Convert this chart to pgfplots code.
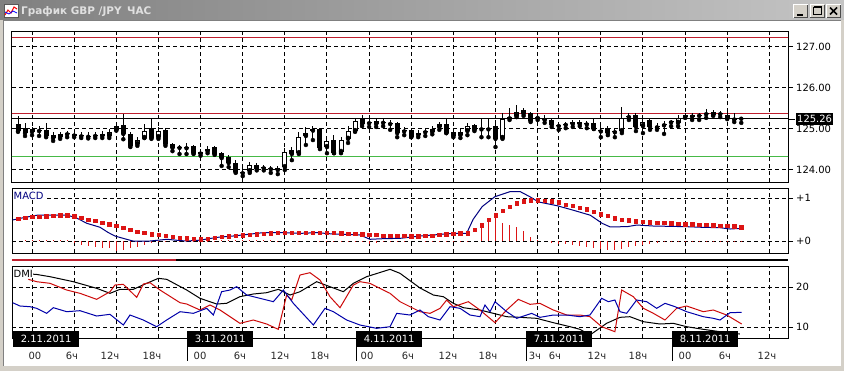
\documentclass[border=0pt]{standalone}
\usepackage{pgfplots}
\pgfplotsset{compat=1.18}
\usepackage{pgfplotstable}
\usepackage{fontspec}
\setmainfont{DejaVu Sans}
\definecolor{wingray}{RGB}{212,208,200}
\definecolor{tgl}{RGB}{128,128,128}
\definecolor{tgr}{RGB}{196,196,196}
\definecolor{ttext}{RGB}{224,224,224}
\definecolor{lvlred}{RGB}{190,30,45}
\definecolor{lvlgreen}{RGB}{70,185,70}
\definecolor{macdnavy}{RGB}{0,0,128}
\definecolor{sigred}{RGB}{220,20,20}
\definecolor{dmiblue}{RGB}{0,0,170}
\definecolor{dmired}{RGB}{205,10,10}
\newcommand\lbl{\fontsize{10}{12}\selectfont}
\pgfplotsset{
  panel/.style={scale only axis, width=776bp, xmin=-0.8545, xmax=109.656,
    axis line style={black, line width=1bp},
    grid=major, major grid style={black, line width=1bp, dash pattern=on 4bp off 3bp},
    xtick={2,8,14,20,26,32,38,44,50,56,62,68,74,77,83,89,95,101,107},
    xticklabels={}, xtick style={draw=none},
    ytick pos=right, yticklabel pos=right, tick align=outside, major tick length=5bp,
    ytick style={black, line width=1bp},
    yticklabel style={font=\lbl, anchor=west, text height=7.3bp, text depth=0pt, inner sep=0pt, xshift=3bp},
    anchor=north west},
  ebar/.style n args={2}{only marks, mark=none, forget plot, error bars/.cd, y dir=plus, y explicit, error mark=none, error bar style={#1, line width=#2}}
}
\begin{document}
\pgfplotstableread{
i O H L C
0 125.12 125.32 124.93 124.95
1 125.02 125.15 124.83 124.90
2 125.00 125.05 124.85 124.93
3 124.97 125.07 124.83 124.95
4 124.98 125.15 124.80 124.83
5 124.85 124.93 124.71 124.78
6 124.88 124.93 124.76 124.80
7 124.88 124.95 124.80 124.87
8 124.88 124.95 124.80 124.84
9 124.86 124.93 124.78 124.82
10 124.84 124.92 124.77 124.81
11 124.84 124.92 124.78 124.83
12 124.88 124.95 124.78 124.83
13 124.83 125.00 124.78 124.93
14 124.98 125.10 124.96 125.07
15 125.10 125.36 124.75 124.88
16 124.88 124.93 124.56 124.59
17 124.63 124.80 124.59 124.73
18 124.78 125.12 124.78 124.95
19 125.02 125.24 124.76 124.78
20 124.80 125.05 124.76 124.95
21 124.98 125.02 124.59 124.63
22 124.63 124.66 124.46 124.54
23 124.56 124.61 124.39 124.54
24 124.55 124.66 124.39 124.53
25 124.59 124.61 124.39 124.41
26 124.41 124.50 124.35 124.40
27 124.50 124.59 124.41 124.46
28 124.56 124.59 124.37 124.39
29 124.41 124.44 124.10 124.29
30 124.32 124.37 124.07 124.17
31 124.17 124.24 123.93 123.95
32 123.95 124.12 123.85 123.92
33 123.97 124.20 123.93 124.12
34 124.12 124.17 123.99 124.03
35 124.05 124.12 123.99 124.04
36 124.03 124.10 123.93 124.02
37 124.05 124.10 123.90 124.00
38 124.07 124.54 124.00 124.44
39 124.49 124.56 124.24 124.39
40 124.41 124.93 124.39 124.80
41 124.83 125.05 124.61 124.90
42 124.96 125.07 124.73 124.97
43 125.00 125.02 124.51 124.54
44 124.56 124.83 124.41 124.71
45 124.73 124.85 124.41 124.41
46 124.44 124.80 124.41 124.73
47 124.76 125.07 124.66 124.95
48 124.95 125.27 124.93 125.20
49 125.24 125.34 125.07 125.12
50 125.16 125.24 125.05 125.14
51 125.20 125.27 125.05 125.12
52 125.16 125.24 125.07 125.15
53 125.15 125.22 124.98 125.12
54 125.15 125.17 124.80 124.90
55 124.96 125.05 124.85 124.94
56 124.98 125.02 124.80 124.80
57 124.90 124.98 124.80 124.85
58 124.94 125.00 124.83 124.92
59 124.93 125.07 124.87 125.00
60 125.05 125.17 124.98 125.12
61 125.12 125.24 124.90 124.90
62 124.93 124.98 124.80 124.83
63 124.85 125.00 124.78 124.93
64 124.95 125.15 124.85 125.07
65 125.10 125.12 124.95 124.98
66 125.01 125.27 124.80 124.99
67 125.01 125.24 124.80 124.99
68 125.07 125.22 124.56 124.76
69 124.78 125.39 124.76 125.24
70 125.28 125.51 125.22 125.26
71 125.32 125.58 125.29 125.41
72 125.46 125.51 125.32 125.37
73 125.39 125.41 125.17 125.20
74 125.28 125.39 125.22 125.27
75 125.27 125.34 125.15 125.22
76 125.22 125.27 125.05 125.10
77 125.08 125.15 124.98 125.07
78 125.11 125.17 125.02 125.10
79 125.17 125.22 125.05 125.12
80 125.17 125.22 125.07 125.12
81 125.13 125.20 125.02 125.11
82 125.15 125.27 125.00 125.00
83 124.96 125.07 124.80 124.94
84 125.02 125.07 124.85 124.90
85 124.94 125.02 124.80 124.92
86 124.95 125.54 124.90 125.27
87 125.31 125.39 125.22 125.29
88 125.34 125.39 124.95 125.05
89 125.07 125.24 124.90 125.17
90 125.22 125.27 124.98 125.05
91 125.06 125.15 124.98 125.04
92 125.09 125.20 124.88 125.11
93 125.16 125.22 125.07 125.17
94 125.15 125.34 125.07 125.27
95 125.34 125.39 125.27 125.29
96 125.30 125.39 125.22 125.31
97 125.32 125.39 125.22 125.34
98 125.36 125.49 125.27 125.38
99 125.41 125.46 125.32 125.34
100 125.36 125.44 125.29 125.38
101 125.34 125.41 125.24 125.27
102 125.25 125.39 125.17 125.23
103 125.25 125.29 125.15 125.26
}\candles
\pgfplotstableread{
i v
-0.75 0.49
1.0 0.55
2.7 0.60
4.56 0.605
6.98 0.605
8.4 0.53
9.83 0.41
11.68 0.32
12.82 0.20
13.81 0.116
15.24 0.05
16.38 0.0
18.8 0.0
21.22 0.04
23.07 0.01
24.07 0.0
25.92 0.02
28.34 0.085
30.62 0.116
34.89 0.194
37.74 0.194
40.16 0.178
42.58 0.194
44.86 0.163
48.7 0.14
50.13 0.04
51.98 0.054
54.41 0.062
57.25 0.116
61.95 0.178
63.9 0.18
64.8 0.50
66.1 0.80
67.9 1.03
70.1 1.15
71.5 1.15
72.9 1.03
74.1 0.91
76.8 0.82
79.0 0.72
81.5 0.60
83.2 0.41
84.3 0.33
86.73 0.333
88.15 0.372
90.43 0.349
95.27 0.333
97.55 0.318
99.97 0.31
101.39 0.279
103.1 0.295
}\macdline
\pgfplotstableread{
i s h
0 0.52 0.0
1 0.54 0.02
2 0.56 0.03
3 0.57 0.03
4 0.58 0.03
5 0.59 0.03
6 0.60 0.03
7 0.60 0.02
8 0.58 -0.05
9 0.54 -0.09
10 0.50 -0.12
11 0.47 -0.13
12 0.43 -0.155
13 0.39 -0.17
14 0.35 -0.225
15 0.31 -0.20
16 0.26 -0.17
17 0.22 -0.13
18 0.19 -0.09
19 0.16 -0.04
20 0.14 -0.02
21 0.12 -0.01
22 0.10 0.0
23 0.08 -0.01
24 0.065 -0.01
25 0.05 -0.01
26 0.045 0.0
27 0.06 0.01
28 0.08 0.01
29 0.095 0.02
30 0.11 0.02
31 0.12 0.02
32 0.135 0.02
33 0.15 0.02
34 0.16 0.02
35 0.175 0.02
36 0.18 0.015
37 0.19 0.01
38 0.195 0.0
39 0.20 0.0
40 0.20 -0.01
41 0.20 0.0
42 0.20 0.0
43 0.20 -0.01
44 0.195 -0.01
45 0.19 -0.02
46 0.185 -0.02
47 0.175 -0.02
48 0.165 -0.02
49 0.155 -0.03
50 0.145 -0.06
51 0.14 -0.04
52 0.13 -0.03
53 0.125 -0.03
54 0.12 -0.02
55 0.12 -0.01
56 0.115 0.0
57 0.115 0.0
58 0.12 0.01
59 0.13 0.01
60 0.14 0.01
61 0.155 0.01
62 0.17 0.01
63 0.18 0.01
64 0.18 0.01
65 0.27 0.0
66 0.37 0.39
67 0.49 0.53
68 0.60 0.62
69 0.70 0.43
70 0.80 0.37
71 0.88 0.33
72 0.93 0.23
73 0.95 0.10
74 0.95 0.03
75 0.94 0.0
76 0.93 -0.047
77 0.90 -0.06
78 0.85 -0.078
79 0.82 -0.10
80 0.78 -0.124
81 0.74 -0.14
82 0.68 -0.163
83 0.62 -0.194
84 0.59 -0.217
85 0.53 -0.20
86 0.50 -0.18
87 0.48 -0.14
88 0.46 -0.11
89 0.445 -0.085
90 0.435 -0.06
91 0.425 -0.047
92 0.42 -0.03
93 0.41 -0.02
94 0.40 -0.02
95 0.395 -0.02
96 0.39 -0.02
97 0.385 -0.02
98 0.38 -0.02
99 0.37 -0.02
100 0.36 -0.02
101 0.355 -0.02
102 0.34 -0.02
103 0.32 -0.02
}\signal
\pgfplotstableread{
i v
-0.8 23.4
2.56 23.17
4.56 22.58
7.88 21.33
11.2 19.67
13.1 18.42
14.53 19.42
16.42 19.42
18.32 20.92
19.99 22.17
21.17 21.92
24.02 19.25
25.92 17.17
28.29 15.75
29.72 15.92
31.61 17.58
33.51 18.25
35.41 18.58
37.07 19.42
38.74 18.0
40.16 18.83
42.53 21.33
44.43 20.08
46.33 18.83
47.76 20.92
49.65 22.58
52.98 24.42
54.4 23.42
57.25 19.75
59.15 18.0
60.57 17.58
62.0 15.92
63.42 14.83
65.79 14.25
67.69 13.42
69.59 12.58
71.49 12.42
73.86 12.17
76.24 11.08
78.61 10.08
80.03 9.42
81.45 8.0
83.82 10.92
85.73 12.42
87.15 12.58
89.05 11.33
91.42 10.75
93.32 10.92
95.22 10.08
97.59 9.42
99.97 8.83
102.8 8.25
}\adx
\pgfplotstableread{
i v
1.47 21.92
2.66 21.33
4.56 20.92
6.93 19.25
8.83 18.42
11.2 16.92
13.1 18.83
13.81 20.5
15.0 20.67
16.9 17.42
17.85 20.75
18.8 21.08
20.22 19.25
23.07 16.08
24.02 15.75
25.92 14.25
27.34 15.5
28.77 14.25
31.61 10.92
33.51 11.75
35.41 10.75
37.07 9.42
38.26 18.0
38.97 16.75
40.16 23.0
41.58 23.58
43.01 21.75
44.43 17.58
45.86 14.83
47.76 20.5
48.7 21.33
50.13 20.92
52.98 18.42
54.4 16.33
57.25 13.83
58.67 13.42
60.1 14.67
61.05 16.75
62.0 15.08
64.13 16.33
65.79 14.25
67.93 11.08
69.59 14.25
71.25 16.92
72.91 15.67
74.34 15.92
76.24 14.25
78.14 13.0
80.03 13.0
81.45 12.58
83.12 10.08
85.0 8.83
85.97 19.25
87.63 17.58
89.05 14.67
90.48 13.42
92.14 11.75
93.8 14.67
95.22 15.25
97.59 13.83
99.02 14.25
100.92 13.0
103.06 10.75
}\pdi
\pgfplotstableread{
i v
-0.76 16.08
0.28 15.25
1.71 15.08
2.66 14.67
4.08 13.42
5.03 14.83
6.93 13.83
8.83 14.08
11.2 12.75
13.1 13.17
15.0 10.5
15.95 13.0
17.85 11.75
19.75 10.08
21.17 11.75
23.07 13.83
24.97 13.42
26.87 14.67
27.82 13.0
29.0 18.83
30.19 19.25
31.14 20.08
32.56 18.0
34.46 17.17
36.36 16.33
37.79 19.25
39.21 15.92
42.06 10.5
43.72 14.67
44.91 13.83
46.8 11.75
48.7 10.5
51.08 9.67
52.98 10.08
53.93 13.42
55.83 13.0
57.25 14.25
58.44 12.58
60.1 11.75
61.52 15.08
62.95 14.67
64.37 13.0
65.79 12.58
66.5 15.5
67.22 13.83
67.93 16.33
69.59 13.83
71.02 12.17
73.15 13.42
74.34 12.42
76.24 13.0
78.14 13.0
80.03 12.58
81.45 13.0
83.12 17.17
84.07 16.33
85.0 16.75
85.73 13.83
86.68 13.42
88.1 16.75
89.53 16.33
90.95 14.67
92.14 15.92
93.56 15.08
95.22 13.83
97.59 12.58
99.02 12.17
99.97 11.75
101.4 13.58
103.06 13.67
}\mdi
\begin{tikzpicture}[x=1bp,y=1bp]
\useasboundingbox (0,0) rectangle (844,-371);
% window chrome
\fill[wingray] (0,0) rectangle (844,-371);
\shade[left color=tgl, right color=tgr] (0,0) rectangle (844,-19);
\fill[white] (4,-21) rectangle (841,-366);
\draw[gray, line width=1bp] (3.5,-366) -- (3.5,-20.5) -- (841,-20.5);
% icon
\fill[white] (4,-4) rectangle (18,-17);
\draw[gray!70!black, line width=0.8bp] (4,-4) rectangle (18,-17);
\draw[red, line width=1bp] (5,-15) -- (8,-10) -- (11,-13) -- (14,-7) -- (17,-9);
\draw[blue, line width=0.8bp] (5,-12) -- (9,-14) -- (13,-11) -- (17,-13);
\node[anchor=west, inner sep=0pt, text=ttext, font=\fontsize{10.5}{12}\selectfont\bfseries, text height=7.6bp, text depth=0pt] at (21,-10.5) {График GBP /JPY\, ЧАС};
% buttons
\foreach \bx in {793,809.5,826}{
  \fill[wingray] (\bx,-4) rectangle (\bx+15,-18);
  \draw[white, line width=1bp] (\bx+0.5,-17.5) -- (\bx+0.5,-4.5) -- (\bx+14.5,-4.5);
  \draw[black!70, line width=1bp] (\bx+0.5,-17.5) -- (\bx+14.5,-17.5) -- (\bx+14.5,-4.5);
}
\fill[black] (797,-13.5) rectangle (803,-15.5);
\draw[black, line width=1bp] (813.5,-7.5) rectangle (821.5,-14.5);
\draw[black, line width=2bp] (813.5,-7) -- (821.5,-7);
\draw[black, line width=1.5bp] (830,-7.5) -- (837,-14.5) (837,-7.5) -- (830,-14.5);

% ---------------- main price panel
\begin{axis}[panel, at={(12bp,-31bp)}, height=151bp, ymin=123.707, ymax=127.39,
  ytick={124,125,126,127}, yticklabels={124.00,125.00,126.00,127.00}]
\addplot[lvlred, line width=1bp, forget plot] coordinates {(-1,127.24) (111,127.24)};
\addplot[lvlred, line width=1bp, forget plot] coordinates {(-1,125.39) (111,125.39)};
\addplot[black, line width=1bp, forget plot] coordinates {(-1,125.26) (111,125.26)};
\addplot[lvlgreen, line width=1bp, forget plot] coordinates {(-1,124.34) (111,124.34)};
\addplot[ebar={black}{1bp}] table[x=i, y=L, y error plus expr={\thisrow{H}-\thisrow{L}}] {\candles};
\addplot[ebar={black}{5bp}] table[x=i, y expr={min(\thisrow{O},\thisrow{C})}, y error plus expr={max(abs(\thisrow{C}-\thisrow{O}),0.03)}] {\candles};
\addplot[restrict expr to domain={\thisrow{C}-\thisrow{O}}{0.055:10}, ebar={white}{3bp}] table[x=i, y expr={\thisrow{O}+0.0244}, y error plus expr={\thisrow{C}-\thisrow{O}-0.0488}] {\candles};
\end{axis}
\draw[black, line width=1bp] (788,-119) -- (795,-119);
\node[fill=black, text=white, anchor=west, inner xsep=1bp, inner ysep=2bp, font=\lbl, text height=7.3bp, text depth=0pt] at (796,-119) {125.26};

% ---------------- MACD panel
\begin{axis}[panel, at={(12bp,-188bp)}, height=65bp, ymin=-0.279, ymax=1.233,
  ytick={0,1}, yticklabels={+0,+1}]
\addplot[sigred, line width=1bp, ycomb, mark=none, forget plot] table[x=i, y=h] {\signal};
\addplot[macdnavy, line width=1bp, mark=none] table[x=i, y=v] {\macdline};
\addplot[sigred, only marks, mark=square*, mark size=1.7bp, mark options={draw=none, fill=sigred}] table[x=i, y=s] {\signal};
\end{axis}
\node[fill=white, text=macdnavy, anchor=west, inner sep=0.5bp, font=\lbl, text height=7.3bp, text depth=0pt] at (13,-196) {MACD};

% separator
\draw[line width=2.5bp, black] (12,-260) -- (788,-260);
\draw[line width=2.5bp, lvlred] (12,-260) -- (176,-260);

% ---------------- DMI panel
\begin{axis}[panel, at={(12bp,-266bp)}, height=72bp, ymin=7.25, ymax=25.25,
  ytick={10,20}, yticklabels={10,20}]
\addplot[black, line width=1bp, mark=none] table[x=i, y=v] {\adx};
\addplot[dmired, line width=1bp, mark=none] table[x=i, y=v] {\pdi};
\addplot[dmiblue, line width=1bp, mark=none] table[x=i, y=v] {\mdi};
\end{axis}
\node[fill=white, text=black, anchor=west, inner sep=0.5bp, font=\lbl, text height=7.3bp, text depth=0pt] at (13,-274) {DMI};

% ---------------- time axis
\foreach \xx/\dd in {13/2.11.2011, 187/3.11.2011, 356/4.11.2011, 526/7.11.2011, 672/8.11.2011}{
  \node[fill=black, text=white, anchor=north west, minimum width=66bp, minimum height=16bp, inner sep=0pt, font=\lbl] at (\xx,-331) {\dd};
}
\foreach \xx in {187.5,356.5,526.5,672.5}{\draw[black, line width=1bp] (\xx,-347) -- (\xx,-361);}
\foreach \xx/\hh in {35/00, 72/6ч, 110/12ч, 152/18ч, 200/00, 240/6ч, 280/12ч, 320/18ч, 367/00, 408/6ч, 448/12ч, 488/18ч, 535/3ч, 555/6ч, 597/12ч, 638/18ч, 685/00, 725/6ч, 767/12ч}{
  \node[text=black!85, inner sep=0pt, font=\lbl, text height=7.3bp, text depth=0pt] at (\xx,-356) {\hh};
}
\end{tikzpicture}
\end{document}
